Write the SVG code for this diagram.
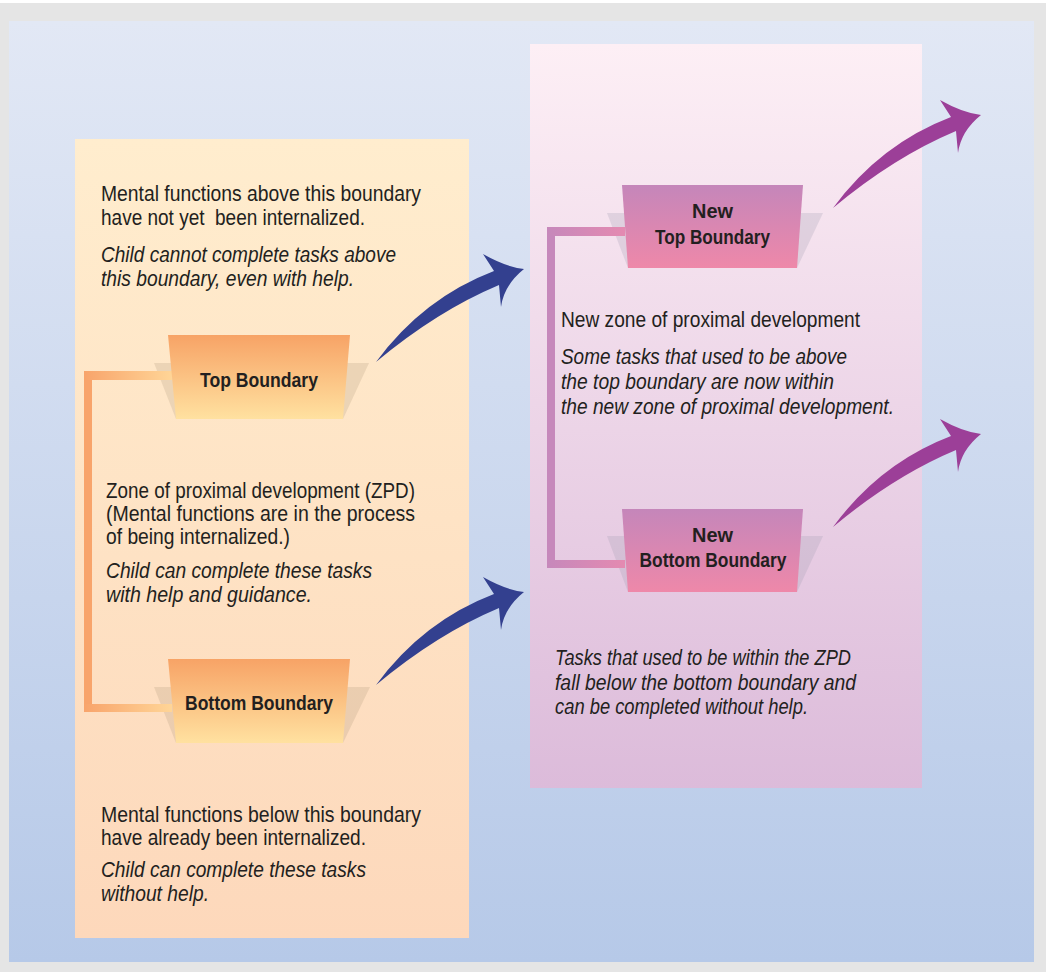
<svg xmlns="http://www.w3.org/2000/svg" xmlns:xlink="http://www.w3.org/1999/xlink" width="1046" height="972" viewBox="0 0 1046 972">
<defs>
<linearGradient id="gBg" x1="0" y1="0" x2="0" y2="1"><stop offset="0" stop-color="#E2E8F5"/><stop offset="1" stop-color="#B6C9E8"/></linearGradient>
<linearGradient id="gLeft" x1="0" y1="0" x2="0" y2="1"><stop offset="0" stop-color="#FFEDCE"/><stop offset="1" stop-color="#FDD8BB"/></linearGradient>
<linearGradient id="gRight" x1="0" y1="0" x2="0" y2="1"><stop offset="0" stop-color="#FDEFF5"/><stop offset="1" stop-color="#DCBBDA"/></linearGradient>
<linearGradient id="gOrange" x1="0" y1="0" x2="0" y2="1"><stop offset="0" stop-color="#F7A366"/><stop offset="1" stop-color="#FFE1A0"/></linearGradient>
<linearGradient id="gPink" x1="0" y1="0" x2="0" y2="1"><stop offset="0" stop-color="#C586BA"/><stop offset="1" stop-color="#EE88A9"/></linearGradient>
<linearGradient id="gOrangeLine" gradientUnits="userSpaceOnUse" x1="84" y1="0" x2="172" y2="0"><stop offset="0" stop-color="#F8A46B"/><stop offset="1" stop-color="#FFD597"/></linearGradient>
<linearGradient id="gPinkLine" gradientUnits="userSpaceOnUse" x1="547" y1="0" x2="625" y2="0"><stop offset="0" stop-color="#C688BB"/><stop offset="1" stop-color="#E48AB1"/></linearGradient>
<path id="arrow" d="M376,362 Q423,298 494,271 L483,254 Q506,267 524,269 Q504,285 501,307 L499,285 Q437,311 376,362 Z"/>
</defs>
<style>
.t{font-family:"Liberation Sans","Arial",sans-serif;font-size:22px;fill:#231F20}
.i{font-style:italic}
.b{font-family:"Liberation Sans","Arial",sans-serif;font-size:21px;font-weight:bold;fill:#231F20;text-anchor:middle}
.shO{fill:#9E8A70;fill-opacity:0.2}
.shP{fill:#A09AB0;fill-opacity:0.25}
</style>
<rect x="0" y="0" width="1046" height="972" fill="#FFFFFF"/>
<rect x="0" y="3" width="1046" height="969" fill="#E5E5E5"/>
<rect x="9" y="21" width="1025" height="941" fill="url(#gBg)"/>
<rect id="panel-left" x="75" y="139" width="394" height="799" fill="url(#gLeft)"/>
<rect id="panel-right" x="530" y="44" width="392" height="744" fill="url(#gRight)"/>

<g id="shadows">
<polygon class="shO" points="154,363 369,363 343,419 176,419"/>
<polygon class="shO" points="154,687 370,687 343,743 176,743"/>
<polygon class="shP" points="607,213 823,213 797,268 628,268"/>
<polygon class="shP" points="607,536 823,536 797,592 628,592"/>
</g>

<g id="connectors">
<rect x="84" y="371" width="8" height="341" fill="#F8A46B"/>
<rect x="84" y="371" width="88" height="9" fill="url(#gOrangeLine)"/>
<rect x="84" y="704" width="88" height="8" fill="url(#gOrangeLine)"/>
<rect x="547" y="227" width="8" height="341" fill="#C688BB"/>
<rect x="547" y="227" width="78" height="9" fill="url(#gPinkLine)"/>
<rect x="547" y="560" width="78" height="8" fill="url(#gPinkLine)"/>
<use xlink:href="#arrow" href="#arrow" fill="#33408F"/>
<use xlink:href="#arrow" href="#arrow" fill="#33408F" transform="translate(0,323)"/>
<use xlink:href="#arrow" href="#arrow" fill="#9C3F98" transform="translate(457,-154)"/>
<use xlink:href="#arrow" href="#arrow" fill="#9C3F98" transform="translate(457,165)"/>
</g>

<g id="node-top-boundary">
<polygon points="168,335 350,335 343,419 176,419" fill="url(#gOrange)"/>
<text class="b" x="259" y="387" textLength="118" lengthAdjust="spacingAndGlyphs">Top Boundary</text>
</g>
<g id="node-bottom-boundary">
<polygon points="168,659 350,659 343,743 176,743" fill="url(#gOrange)"/>
<text class="b" x="259" y="710" textLength="148" lengthAdjust="spacingAndGlyphs">Bottom Boundary</text>
</g>
<g id="node-new-top-boundary">
<polygon points="622,185 803,185 797,268 628,268" fill="url(#gPink)"/>
<text class="b" x="712.5" y="218" textLength="41" lengthAdjust="spacingAndGlyphs">New</text>
<text class="b" x="712.5" y="244" textLength="115" lengthAdjust="spacingAndGlyphs">Top Boundary</text>
</g>
<g id="node-new-bottom-boundary">
<polygon points="622,509 803,509 797,592 628,592" fill="url(#gPink)"/>
<text class="b" x="712.5" y="542" textLength="41" lengthAdjust="spacingAndGlyphs">New</text>
<text class="b" x="713" y="567" textLength="147" lengthAdjust="spacingAndGlyphs">Bottom Boundary</text>
</g>

<g id="text-above">
<text class="t" x="101" y="201" textLength="320" lengthAdjust="spacingAndGlyphs">Mental functions above this boundary</text>
<text class="t" x="101" y="225" textLength="264" lengthAdjust="spacingAndGlyphs" xml:space="preserve">have not yet  been internalized.</text>
<text class="t i" x="101" y="262" textLength="295" lengthAdjust="spacingAndGlyphs">Child cannot complete tasks above</text>
<text class="t i" x="101" y="286" textLength="253" lengthAdjust="spacingAndGlyphs">this boundary, even with help.</text>
</g>
<g id="text-zpd">
<text class="t" x="106" y="498" textLength="309" lengthAdjust="spacingAndGlyphs">Zone of proximal development (ZPD)</text>
<text class="t" x="106" y="521" textLength="309" lengthAdjust="spacingAndGlyphs">(Mental functions are in the process</text>
<text class="t" x="106" y="544" textLength="184" lengthAdjust="spacingAndGlyphs">of being internalized.)</text>
<text class="t i" x="106" y="578" textLength="266" lengthAdjust="spacingAndGlyphs">Child can complete these tasks</text>
<text class="t i" x="106" y="602" textLength="206" lengthAdjust="spacingAndGlyphs">with help and guidance.</text>
</g>
<g id="text-below">
<text class="t" x="101" y="822" textLength="320" lengthAdjust="spacingAndGlyphs">Mental functions below this boundary</text>
<text class="t" x="101" y="845" textLength="265" lengthAdjust="spacingAndGlyphs">have already been internalized.</text>
<text class="t i" x="101" y="877" textLength="265" lengthAdjust="spacingAndGlyphs">Child can complete these tasks</text>
<text class="t i" x="101" y="901" textLength="108" lengthAdjust="spacingAndGlyphs">without help.</text>
</g>
<g id="text-new-zpd">
<text class="t" x="561" y="327" textLength="299" lengthAdjust="spacingAndGlyphs">New zone of proximal development</text>
<text class="t i" x="561" y="364" textLength="286" lengthAdjust="spacingAndGlyphs">Some tasks that used to be above</text>
<text class="t i" x="561" y="389" textLength="273" lengthAdjust="spacingAndGlyphs">the top boundary are now within</text>
<text class="t i" x="561" y="414" textLength="333" lengthAdjust="spacingAndGlyphs">the new zone of proximal development.</text>
</g>
<g id="text-fall-below">
<text class="t i" x="555" y="665" textLength="296" lengthAdjust="spacingAndGlyphs">Tasks that used to be within the ZPD</text>
<text class="t i" x="555" y="690" textLength="301" lengthAdjust="spacingAndGlyphs">fall below the bottom boundary and</text>
<text class="t i" x="555" y="714" textLength="253" lengthAdjust="spacingAndGlyphs">can be completed without help.</text>
</g>
</svg>
